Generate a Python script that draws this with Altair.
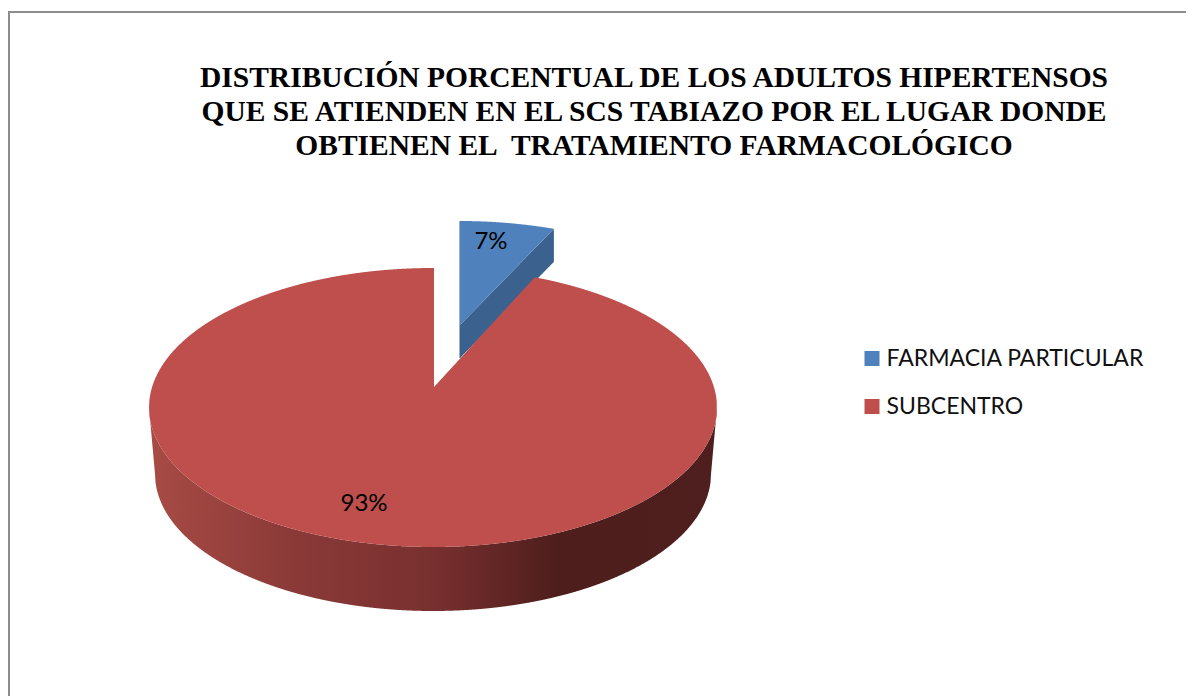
import numpy as np
import pandas as pd
import altair as alt

# Chart values
categories = ["FARMACIA PARTICULAR", "SUBCENTRO"]
percentages = [7, 93]
labels = ["7%", "93%"]
title_lines = [
    "DISTRIBUCIÓN PORCENTUAL DE LOS ADULTOS HIPERTENSOS",
    "QUE SE ATIENDEN EN EL SCS TABIAZO POR EL LUGAR DONDE",
    "OBTIENEN EL \u00a0TRATAMIENTO FARMACOLÓGICO",
]
colors = ["#4f81bd", "#be4f4d"]
label_x = [491, 364]
label_y = [242, 504]

# Oblique pie geometry, in page pixels
CX, CY, RX, RY = 433.0, 407.5, 284.0, 139.5
RED_APEX = (434.0, 387.0)
BLUE_CX, BLUE_CY = 460.0, 360.5
BLUE_APEX_Y = 325.0
BLUE_DROP = 33.0
BOTTOM_RX, BOTTOM_RY, BOTTOM_CY = 278.0, 137.0, 474.0
# foreshortening of the slice angle under the perspective view
RED_FORESHORTEN = 0.833
BLUE_FORESHORTEN = 0.766

sweep = np.radians(percentages[0] / sum(percentages) * 360)


def upper(x, cx, cy):
    return cy - RY * np.sqrt(np.clip(1 - ((x - cx) / RX) ** 2, 0, 1))


def lower(x, cx, cy):
    return cy + RY * np.sqrt(np.clip(1 - ((x - cx) / RX) ** 2, 0, 1))


# Blue top face and cut face
bx_end = BLUE_CX + RX * np.sin(sweep * BLUE_FORESHORTEN)
bx = np.linspace(BLUE_CX, bx_end, 120)
by_end = upper(bx_end, BLUE_CX, BLUE_CY)
b_line = BLUE_APEX_Y + (by_end - BLUE_APEX_Y) * (bx - BLUE_CX) / (bx_end - BLUE_CX)
blue_top = pd.DataFrame({"x": bx, "y": upper(bx, BLUE_CX, BLUE_CY), "y2": b_line, "serie": categories[0]})
blue_cut = pd.DataFrame({"x": bx, "y": b_line, "y2": b_line + BLUE_DROP})
blue_edge = pd.DataFrame({"x": [BLUE_CX], "y": [upper(BLUE_CX, BLUE_CX, BLUE_CY)], "y2": [BLUE_APEX_Y + BLUE_DROP]})

# Red top face
rx_end = CX + RX * np.sin(sweep * RED_FORESHORTEN)
rx_grid = np.concatenate([
    np.arange(CX - RX, RED_APEX[0], 0.5), [RED_APEX[0] - 0.01, RED_APEX[0]],
    np.linspace(RED_APEX[0] + 0.5, rx_end, 100), np.arange(rx_end + 0.5, CX + RX + 0.01, 0.5),
])
rx_grid = np.sort(np.unique(rx_grid))
ry_end = upper(rx_end, CX, CY)
red_up = upper(rx_grid, CX, CY)
in_gap = (rx_grid >= RED_APEX[0]) & (rx_grid <= rx_end)
red_up[in_gap] = RED_APEX[1] + (ry_end - RED_APEX[1]) * (rx_grid[in_gap] - RED_APEX[0]) / (rx_end - RED_APEX[0])
red_top = pd.DataFrame({"x": rx_grid, "y": red_up, "y2": lower(rx_grid, CX, CY), "serie": categories[1]})

# Red outer wall
wx = np.arange(CX - RX, CX + RX + 0.01, 0.5)
wd = np.abs(wx - CX)
w_low = BOTTOM_CY + BOTTOM_RY * np.sqrt(np.clip(1 - (wd / BOTTOM_RX) ** 2, 0, 1))
beyond = wd > BOTTOM_RX
w_low[beyond] = BOTTOM_CY + (CY - BOTTOM_CY) * (wd[beyond] - BOTTOM_RX) / (RX - BOTTOM_RX)
wall = pd.DataFrame({"x": wx, "y": lower(wx, CX, CY), "y2": w_low})

X = alt.X("x:Q", scale=alt.Scale(domain=[8, 1186], range=[0, 1178]), axis=None)
Y = alt.Y("y:Q", scale=alt.Scale(domain=[8, 696], range=[0, 688]), axis=None)
Y2 = alt.Y2("y2:Q")
color = alt.Color(
    "serie:N",
    scale=alt.Scale(domain=categories, range=colors),
    legend=alt.Legend(
        title=None,
        orient="none",
        legendX=852.5,
        legendY=339,
        symbolType="square",
        symbolSize=225,
        symbolStrokeWidth=0,
        labelFont="Lato",
        labelFontSize=23,
        labelColor="#111111",
        labelLimit=320,
        labelOffset=3,
        rowPadding=24,
    ),
)

frame_top = alt.Chart(pd.DataFrame({"y": [12.0], "x": [8.0], "x2": [1186.0]})).mark_rule(
    color="#8c8c8c", strokeWidth=2).encode(x=X, x2="x2:Q", y=Y)
frame_left = alt.Chart(pd.DataFrame({"x": [9.0], "y": [12.0], "y2": [696.0]})).mark_rule(
    color="#8c8c8c", strokeWidth=2).encode(x=X, y=Y, y2=Y2)

blue_cut_layer = alt.Chart(blue_cut).mark_area(color="#3b618e", interpolate="linear").encode(x=X, y=Y, y2=Y2)
blue_edge_layer = alt.Chart(blue_edge).mark_rule(color="#3b618e", strokeWidth=1).encode(x=X, y=Y, y2=Y2)
top_layer = alt.Chart(pd.concat([blue_top, red_top])).mark_area(interpolate="linear").encode(
    x=X, y=Y, y2=Y2, color=color)
wall_layer = alt.Chart(wall).mark_area(
    interpolate="linear",
    color=alt.Gradient(
        gradient="linear", x1=0, x2=1, y1=0, y2=0,
        stops=[
            alt.GradientStop(offset=0.0, color="#a84b45"),
            alt.GradientStop(offset=0.25, color="#8b3a38"),
            alt.GradientStop(offset=0.5, color="#78302f"),
            alt.GradientStop(offset=0.72, color="#4e1e1c"),
            alt.GradientStop(offset=1.0, color="#4e1f1e"),
        ],
    ),
).encode(x=X, y=Y, y2=Y2)
text_layer = alt.Chart(pd.DataFrame({"x": label_x, "y": label_y, "t": labels})).mark_text(
    font="Lato", fontSize=24, color="#000000", align="center", baseline="middle"
).encode(x=X, y=Y, text="t:N")

chart = alt.layer(
    frame_top, frame_left, blue_edge_layer, blue_cut_layer, wall_layer, top_layer, text_layer
).properties(
    width=1178,
    height=688,
    padding=0,
    autosize=alt.AutoSizeParams(type="none"),
    title=alt.TitleParams(
        text=title_lines,
        font="Liberation Serif",
        fontSize=29.5,
        fontWeight="bold",
        color="#000000",
        lineHeight=34,
        anchor="middle",
        dx=57,
        dy=180,
        baseline="alphabetic",
    ),
).configure_view(stroke=None)

chart.save("out.html", embed_options={"renderer": "svg", "actions": False})
